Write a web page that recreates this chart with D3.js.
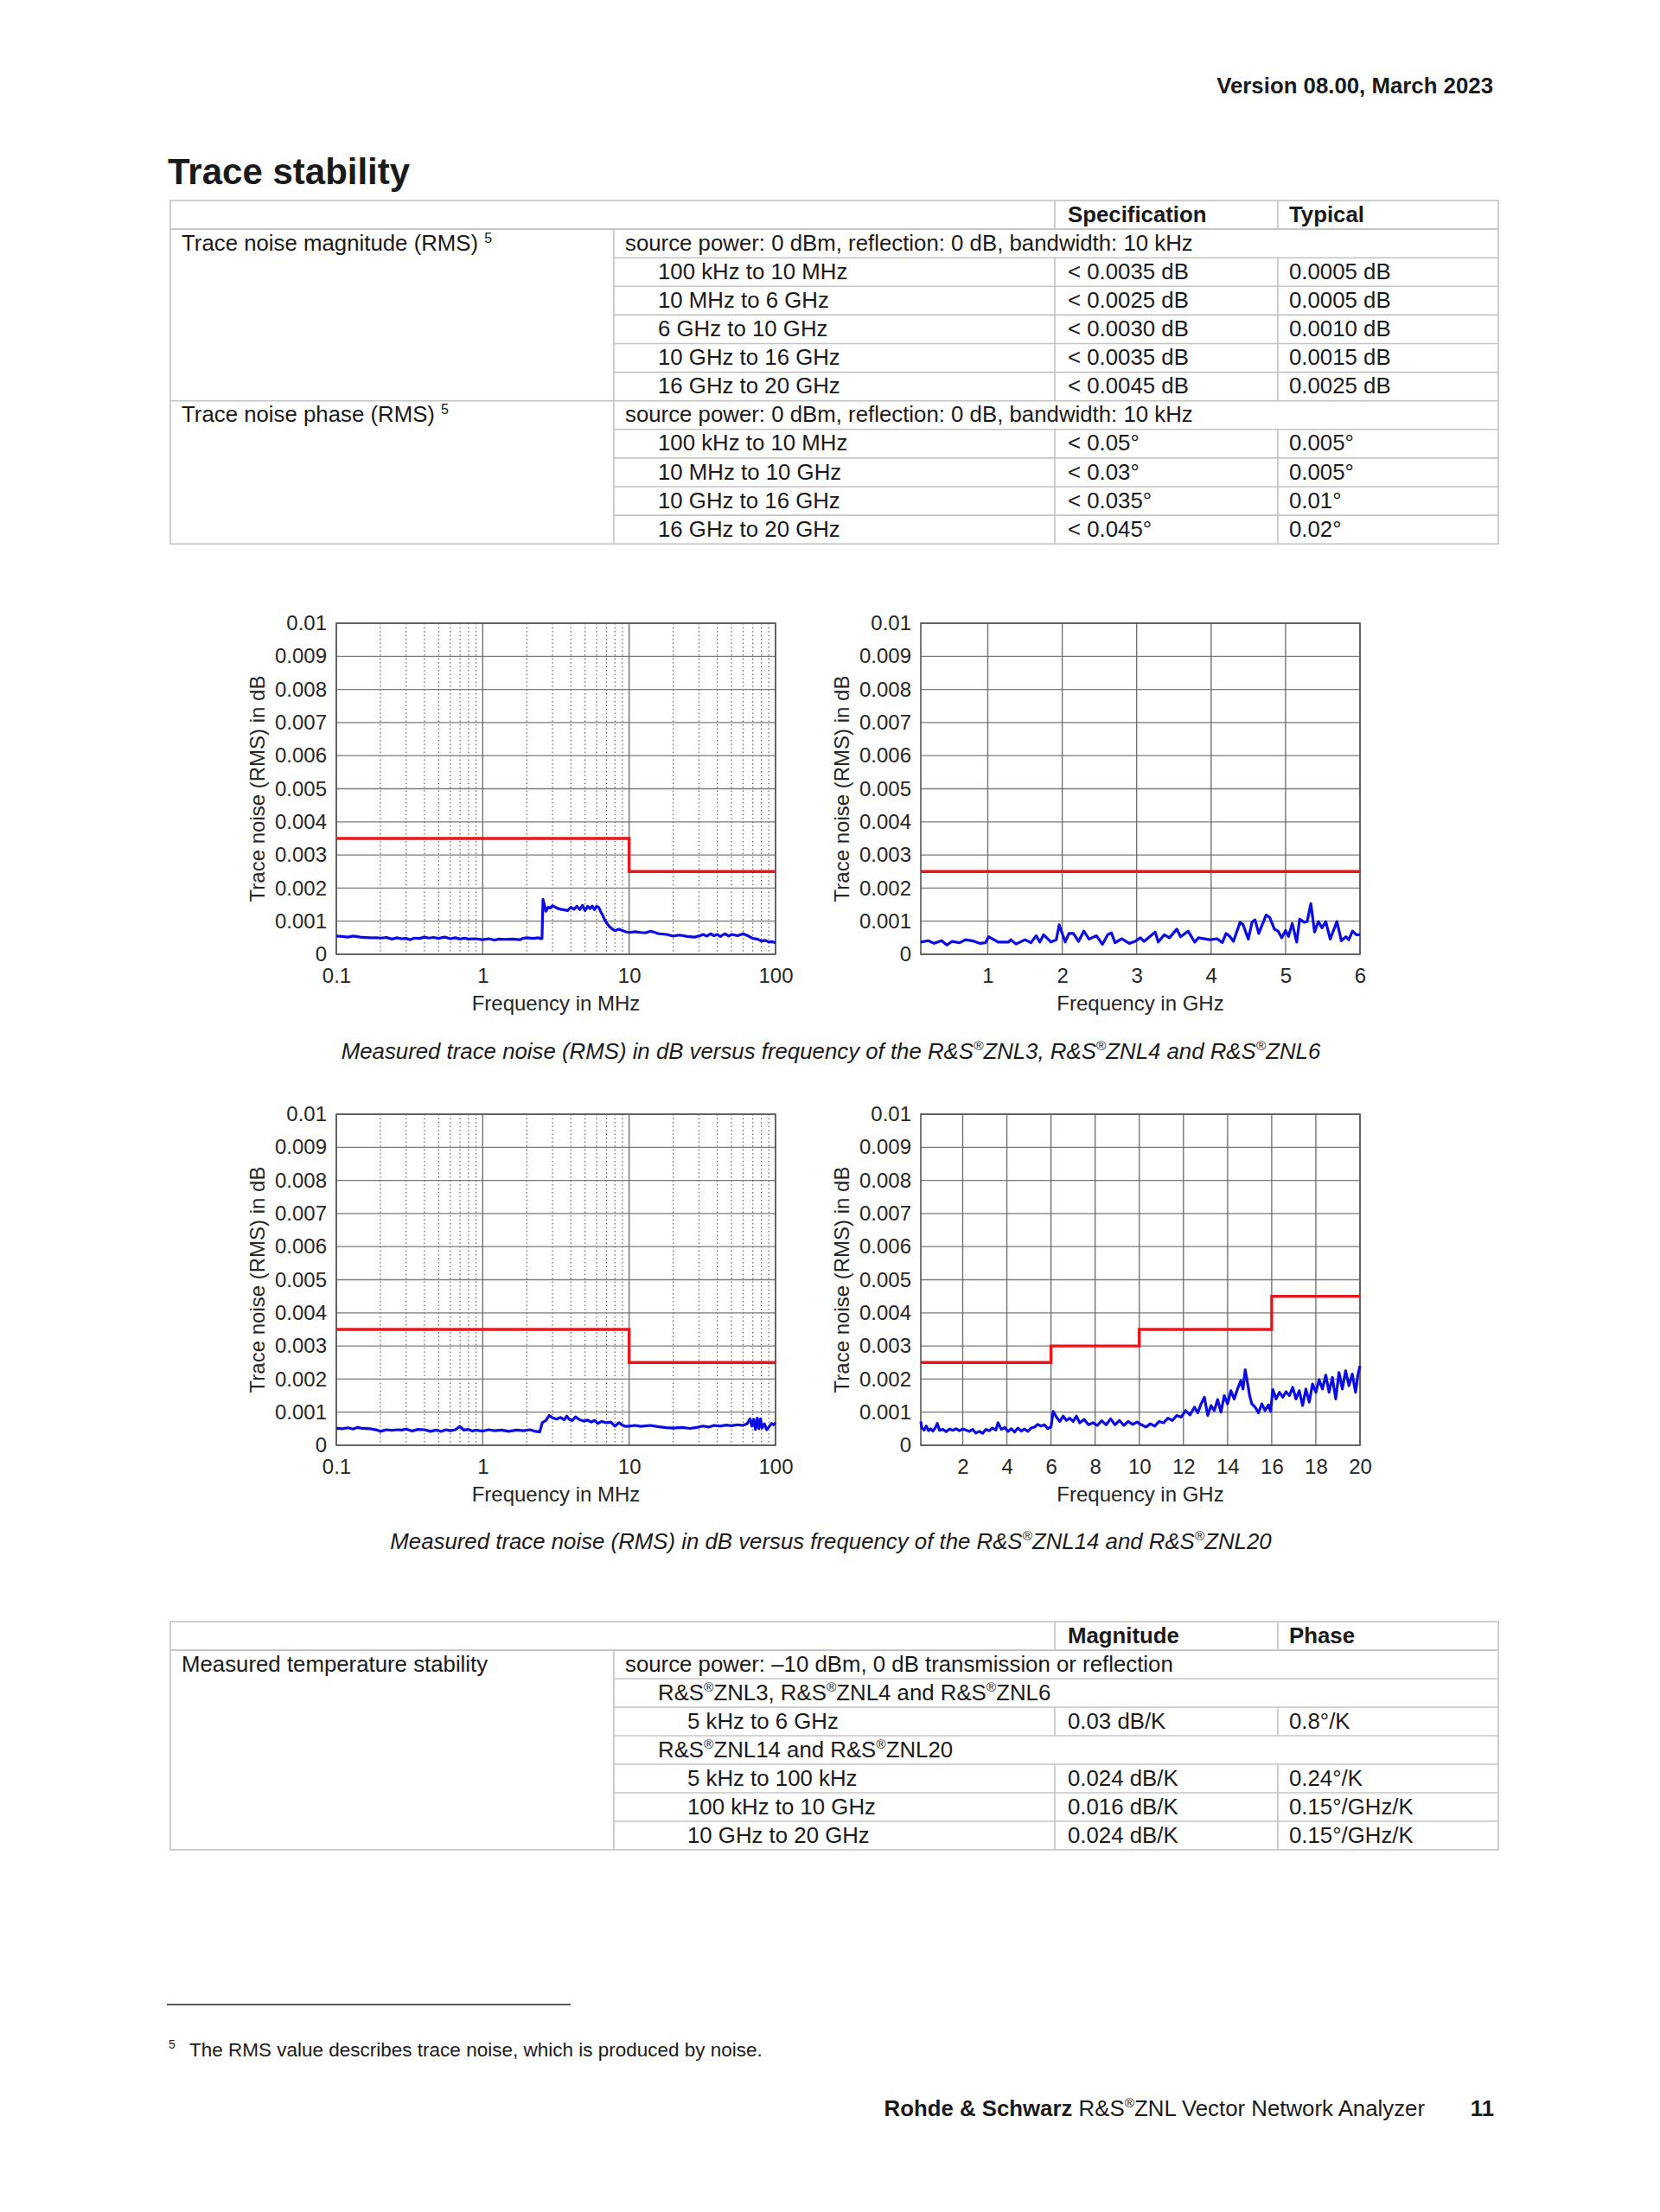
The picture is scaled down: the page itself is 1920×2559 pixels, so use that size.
<!DOCTYPE html>
<meta charset="utf-8">
<script src="https://d3js.org/d3.v7.min.js"></script>
<style>
  body { margin: 0; background: #fff; }
  text { font-family: "Liberation Sans", Arial, sans-serif; fill: #1a1a1a; }
</style>
<div id="page"></div>
<script>
// ---- data ----
var yTicks = [0, 0.001, 0.002, 0.003, 0.004, 0.005, 0.006, 0.007, 0.008, 0.009, 0.01];
var yTickLabels = ["0", "0.001", "0.002", "0.003", "0.004", "0.005", "0.006", "0.007", "0.008", "0.009", "0.01"];
var logTicks = [0.1, 1, 10, 100];
var logTickLabels = ["0.1", "1", "10", "100"];
var ghz6Ticks = [1, 2, 3, 4, 5, 6];
var ghz20Ticks = [2, 4, 6, 8, 10, 12, 14, 16, 18, 20];

// specification limits (step after)
var limitZnl6Mhz = [[0.1, 0.0035], [10, 0.0025], [100, 0.0025]];
var limitZnl6Ghz = [[0.1, 0.0025], [6, 0.0025]];
var limitZnl20Mhz = [[0.1, 0.0035], [10, 0.0025], [100, 0.0025]];
var limitZnl20Ghz = [[0.1, 0.0025], [6, 0.003], [10, 0.0035], [16, 0.0045], [20, 0.0045]];

// measured trace noise, frequency / dB
var traceZnl6Mhz = [
  [0.1,0.00055],[0.11,0.00054],[0.12,0.00052],[0.13,0.00055],[0.14,0.00053],[0.15,0.00051],[0.17,0.0005],
  [0.19,0.0005],[0.2,0.00049],[0.22,0.00051],[0.24,0.00046],[0.26,0.0005],[0.28,0.00047],[0.3,0.00048],
  [0.32,0.00044],[0.34,0.00049],[0.37,0.00048],[0.4,0.00052],[0.43,0.00049],[0.46,0.00051],[0.5,0.00048],
  [0.55,0.00052],[0.6,0.00047],[0.65,0.0005],[0.7,0.00046],[0.75,0.00049],[0.8,0.00046],[0.9,0.00047],
  [1.0,0.00044],[1.1,0.00047],[1.2,0.00043],[1.3,0.00046],[1.4,0.00045],[1.6,0.00046],[1.8,0.00044],
  [1.9,0.00049],[2.0,0.0005],[2.2,0.00048],[2.4,0.0005],[2.5,0.00047],[2.54,0.00048],[2.58,0.00166],
  [2.65,0.00145],[2.7,0.0013],[2.8,0.00142],[2.9,0.0014],[3.0,0.00147],[3.2,0.0014],[3.4,0.00136],
  [3.6,0.00134],[3.8,0.00132],[4.0,0.00142],[4.2,0.00136],[4.4,0.00145],[4.6,0.00135],[4.8,0.00148],
  [5.0,0.00132],[5.2,0.00145],[5.4,0.00138],[5.6,0.00146],[5.8,0.00135],[6.0,0.00145],[6.2,0.00142],
  [6.4,0.00128],[6.6,0.00118],[6.8,0.00105],[7.0,0.00095],[7.3,0.00085],[7.6,0.00078],[8.0,0.00071],
  [8.5,0.00076],[9.0,0.00072],[9.5,0.00068],[10,0.00066],[11,0.00068],[12,0.00066],[13,0.00065],
  [14,0.0007],[15,0.00066],[16,0.00062],[18,0.0006],[20,0.00055],[22,0.00058],[25,0.00054],[28,0.00052],
  [30,0.00055],[32,0.0006],[34,0.00055],[36,0.00062],[38,0.00056],[40,0.0006],[42,0.00054],[45,0.00062],
  [48,0.00055],[50,0.0006],[55,0.00056],[60,0.00062],[63,0.00058],[66,0.00054],[70,0.00048],[75,0.00046],
  [80,0.0004],[85,0.00042],[90,0.00037],[95,0.00038],[100,0.00035]
];
var traceZnl6Ghz = [
  [0.1,0.00037],[0.2,0.00041],[0.28,0.00033],[0.38,0.00041],[0.45,0.00028],[0.52,0.00039],[0.62,0.00035],
  [0.7,0.00044],[0.79,0.00041],[0.89,0.00033],[0.97,0.00035],[1.01,0.00053],[1.14,0.00037],[1.28,0.00037],
  [1.31,0.00044],[1.38,0.00031],[1.5,0.00044],[1.58,0.00035],[1.65,0.00056],[1.7,0.00037],[1.75,0.00059],
  [1.85,0.00037],[1.92,0.00044],[1.96,0.00089],[2.04,0.00037],[2.09,0.00063],[2.15,0.00063],[2.22,0.00039],
  [2.29,0.0007],[2.36,0.00046],[2.46,0.00056],[2.54,0.0003],[2.61,0.00059],[2.66,0.00065],[2.71,0.00035],
  [2.8,0.00047],[2.9,0.00033],[2.98,0.00039],[3.05,0.0005],[3.1,0.00039],[3.25,0.00067],[3.29,0.00037],
  [3.37,0.00059],[3.44,0.0005],[3.54,0.00076],[3.59,0.00053],[3.69,0.0007],[3.78,0.00037],[3.83,0.0005],
  [3.98,0.00044],[4.08,0.00047],[4.15,0.00035],[4.2,0.00063],[4.25,0.00054],[4.3,0.00039],[4.39,0.00097],
  [4.43,0.00089],[4.5,0.00046],[4.55,0.00097],[4.59,0.00104],[4.64,0.00063],[4.74,0.00119],[4.79,0.0011],
  [4.85,0.00076],[4.9,0.0007],[4.95,0.0005],[5.0,0.00072],[5.04,0.00054],[5.09,0.00093],[5.15,0.00037],
  [5.19,0.00106],[5.25,0.00097],[5.29,0.00099],[5.34,0.00153],[5.39,0.00067],[5.44,0.00099],[5.49,0.0008],
  [5.54,0.00099],[5.6,0.00046],[5.69,0.00099],[5.75,0.00041],[5.81,0.00053],[5.85,0.00044],[5.9,0.0007],
  [5.95,0.00059],[6.0,0.00059]
];
var traceZnl20Mhz = [
  [0.1,0.00051],[0.11,0.0005],[0.12,0.00053],[0.13,0.00049],[0.14,0.00054],[0.15,0.00051],[0.17,0.0005],
  [0.19,0.00046],[0.2,0.00042],[0.22,0.00047],[0.24,0.00045],[0.26,0.00047],[0.28,0.00046],[0.3,0.00049],
  [0.33,0.00043],[0.36,0.00048],[0.4,0.00047],[0.44,0.00042],[0.48,0.00046],[0.52,0.00042],[0.56,0.00047],
  [0.6,0.00044],[0.65,0.00047],[0.7,0.00057],[0.74,0.00046],[0.8,0.00048],[0.85,0.00043],[0.9,0.00046],
  [0.95,0.00044],[1.0,0.00043],[1.1,0.00047],[1.2,0.00044],[1.35,0.00046],[1.5,0.00042],[1.7,0.00046],
  [1.9,0.00044],[2.1,0.00047],[2.3,0.00042],[2.45,0.0004],[2.55,0.00068],[2.7,0.00075],[2.85,0.0009],
  [3.0,0.00083],[3.2,0.00079],[3.4,0.00084],[3.6,0.00077],[3.75,0.00088],[3.9,0.00078],[4.1,0.00075],
  [4.3,0.00086],[4.6,0.00077],[4.9,0.00073],[5.2,0.00076],[5.5,0.0007],[5.8,0.00075],[6.1,0.00066],
  [6.5,0.00072],[7.0,0.00068],[7.5,0.0007],[8.0,0.00058],[8.5,0.00068],[9.0,0.00061],[9.5,0.00057],
  [10,0.00058],[11,0.0006],[12,0.00057],[14,0.0006],[16,0.00056],[18,0.00053],[20,0.00052],[23,0.00054],
  [26,0.00051],[29,0.00054],[32,0.00058],[35,0.00055],[38,0.0006],[42,0.00058],[46,0.00061],[50,0.00059],
  [55,0.00062],[60,0.0006],[64,0.00065],[67,0.0008],[69,0.00058],[71,0.00078],[73,0.00048],[75,0.00082],
  [77,0.0005],[79,0.0008],[81,0.00052],[84,0.00065],[87,0.00047],[90,0.00055],[94,0.00066],[97,0.00062],
  [100,0.00068]
];
var traceZnl20Ghz = [
  [0.1,0.00072],[0.15,0.00052],[0.25,0.00046],[0.35,0.00058],[0.45,0.00044],[0.55,0.0005],[0.65,0.00043],
  [0.75,0.00052],[0.85,0.00066],[0.95,0.00045],[1.1,0.00048],[1.25,0.00041],[1.4,0.00049],[1.55,0.00045],
  [1.7,0.0005],[1.85,0.00044],[2.0,0.00049],[2.15,0.00046],[2.3,0.00042],[2.45,0.00048],[2.6,0.00037],
  [2.75,0.00042],[2.9,0.00036],[3.05,0.00048],[3.2,0.00044],[3.35,0.00052],[3.5,0.00046],[3.6,0.00068],
  [3.75,0.00048],[3.9,0.00054],[4.05,0.00042],[4.2,0.0005],[4.35,0.0004],[4.5,0.00052],[4.65,0.00043],
  [4.8,0.00049],[4.95,0.00042],[5.1,0.00052],[5.25,0.00055],[5.4,0.00063],[5.55,0.00058],[5.7,0.00062],
  [5.85,0.0005],[6.0,0.00056],[6.1,0.00102],[6.25,0.00085],[6.4,0.00072],[6.55,0.00088],[6.7,0.00075],
  [6.85,0.00082],[7.0,0.00072],[7.15,0.00088],[7.3,0.00068],[7.5,0.00078],[7.7,0.00062],[7.9,0.00068],
  [8.1,0.0006],[8.3,0.00074],[8.5,0.00062],[8.7,0.0008],[8.9,0.00062],[9.1,0.00075],[9.3,0.0006],
  [9.5,0.00072],[9.7,0.00063],[9.9,0.0007],[10.1,0.00062],[10.3,0.00055],[10.5,0.00065],[10.7,0.00058],
  [10.9,0.00072],[11.1,0.00068],[11.3,0.00082],[11.5,0.00075],[11.7,0.0009],[11.9,0.00085],[12.1,0.00105],
  [12.3,0.00092],[12.5,0.00115],[12.65,0.00098],[12.8,0.00125],[12.95,0.00145],[13.1,0.0009],[13.25,0.0012],
  [13.4,0.00105],[13.55,0.00138],[13.7,0.001],[13.85,0.0015],[14.0,0.00125],[14.15,0.00165],[14.3,0.0014],
  [14.45,0.0017],[14.6,0.00195],[14.7,0.0017],[14.8,0.00228],[14.9,0.0019],[15.0,0.0015],[15.1,0.00125],
  [15.25,0.00115],[15.4,0.00098],[15.55,0.00125],[15.7,0.00105],[15.85,0.00122],[15.95,0.00102],
  [16.05,0.00168],[16.2,0.0014],[16.35,0.0016],[16.5,0.00145],[16.65,0.00162],[16.8,0.0015],[16.95,0.00175],
  [17.1,0.0014],[17.25,0.00165],[17.4,0.0012],[17.55,0.0017],[17.7,0.0013],[17.85,0.00185],[18.0,0.0016],
  [18.15,0.00198],[18.3,0.0017],[18.45,0.00212],[18.6,0.0016],[18.75,0.00205],[18.9,0.0014],[19.05,0.0022],
  [19.2,0.0017],[19.35,0.00225],[19.5,0.0018],[19.65,0.00215],[19.8,0.0016],[19.9,0.0021],[20.0,0.0024]
];

// table text
var stabHeader = ["Specification", "Typical"];
var magCondition = "source power: 0 dBm, reflection: 0 dB, bandwidth: 10 kHz";
var magRows = [
  ["100 kHz to 10 MHz", "< 0.0035 dB", "0.0005 dB"],
  ["10 MHz to 6 GHz", "< 0.0025 dB", "0.0005 dB"],
  ["6 GHz to 10 GHz", "< 0.0030 dB", "0.0010 dB"],
  ["10 GHz to 16 GHz", "< 0.0035 dB", "0.0015 dB"],
  ["16 GHz to 20 GHz", "< 0.0045 dB", "0.0025 dB"]
];
var phaseRows = [
  ["100 kHz to 10 MHz", "< 0.05°", "0.005°"],
  ["10 MHz to 10 GHz", "< 0.03°", "0.005°"],
  ["10 GHz to 16 GHz", "< 0.035°", "0.01°"],
  ["16 GHz to 20 GHz", "< 0.045°", "0.02°"]
];
var tempHeader = ["Magnitude", "Phase"];
var tempCondition = "source power: \u201310 dBm, 0 dB transmission or reflection";
var tempSmallModels = "R&S®ZNL3, R&S®ZNL4 and R&S®ZNL6";
var tempSmallRows = [["5 kHz to 6 GHz", "0.03 dB/K", "0.8°/K"]];
var tempLargeModels = "R&S®ZNL14 and R&S®ZNL20";
var tempLargeRows = [
  ["5 kHz to 100 kHz", "0.024 dB/K", "0.24°/K"],
  ["100 kHz to 10 GHz", "0.016 dB/K", "0.15°/GHz/K"],
  ["10 GHz to 20 GHz", "0.024 dB/K", "0.15°/GHz/K"]
];

// ---- drawing ----
var svg = d3.select("#page").append("svg")
  .attr("width", 1920).attr("height", 2559);
svg.append("rect").attr("width", 1920).attr("height", 2559).attr("fill", "#fff");

var FS = 25.8;

// text with raised ® marks
function rich(t, str, fs) {
  var parts = str.split("®");
  parts.forEach(function(p, i) {
    if (i > 0) {
      t.append("tspan").attr("font-size", fs * 0.6).attr("dy", -fs * 0.38).text("®");
      t.append("tspan").attr("font-size", fs).attr("dy", fs * 0.38).text(p);
    } else {
      t.append("tspan").text(p);
    }
  });
  return t;
}

function label(x, y, str, opts) {
  opts = opts || {};
  var t = svg.append("text").attr("x", x).attr("y", y)
    .attr("font-size", opts.size || FS)
    .attr("font-weight", opts.bold ? "bold" : null)
    .attr("font-style", opts.italic ? "italic" : null)
    .attr("text-anchor", opts.anchor || "start");
  return rich(t, str, opts.size || FS);
}

// header lines
label(1727, 108, "Version 08.00, March 2023", {bold: true, anchor: "end"});
label(194, 213, "Trace stability", {bold: true, size: 42});

// ---- tables ----
var colX = [197, 710, 1220, 1478, 1733];
var lineCol = "#c4c4c4";

function hline(y, xa, xb) {
  svg.append("line").attr("x1", xa).attr("x2", xb).attr("y1", y).attr("y2", y)
    .attr("stroke", lineCol).attr("stroke-width", 1.6);
}
function vline(x, ya, yb) {
  svg.append("line").attr("x1", x).attr("x2", x).attr("y1", ya).attr("y2", yb)
    .attr("stroke", lineCol).attr("stroke-width", 1.6);
}

// groups: [{title, note, rows:[{span:true,text,indent} | {cells:[a,b,c],indent}]}]
function drawTable(top, rowH, header, groups) {
  var indentX = [colX[1] + 13, colX[1] + 51, colX[1] + 85];
  var nRows = 1 + d3.sum(groups, function(g) { return g.rows.length; });
  var bottom = top + nRows * rowH;
  // header
  header.forEach(function(h, i) {
    label(colX[2 + i] + 15 - i * 2, top + rowH - 8.5, h, {bold: true});
  });
  vline(colX[2], top, top + rowH);
  vline(colX[3], top, top + rowH);
  hline(top + rowH, colX[0], colX[4]);
  var r = 1;
  groups.forEach(function(g) {
    var gTop = top + r * rowH;
    hline(gTop, colX[0], colX[4]);
    var t = label(colX[0] + 13, gTop + rowH - 8.5, g.title);
    if (g.note) {
      t.append("tspan").attr("font-size", 16).attr("dx", 7).attr("dy", -9).text(g.note);
    }
    g.rows.forEach(function(row, k) {
      var yTop = top + r * rowH;
      if (k > 0) hline(yTop, colX[1], colX[4]);
      var base = yTop + rowH - 8.5;
      if (row.span) {
        label(indentX[row.indent], base, row.text);
      } else {
        label(indentX[row.indent], base, row.cells[0]);
        label(colX[2] + 15, base, row.cells[1]);
        label(colX[3] + 13, base, row.cells[2]);
        vline(colX[2], yTop, yTop + rowH);
        vline(colX[3], yTop, yTop + rowH);
      }
      r++;
    });
  });
  vline(colX[1], top + rowH, bottom);
  svg.append("rect").attr("x", colX[0]).attr("y", top)
    .attr("width", colX[4] - colX[0]).attr("height", bottom - top)
    .attr("fill", "none").attr("stroke", lineCol).attr("stroke-width", 1.6);
}

function dataRows(rows, indent) {
  return rows.map(function(c) { return {cells: c, indent: indent}; });
}

drawTable(232, 33.1, stabHeader, [
  {title: "Trace noise magnitude (RMS)", note: "5",
   rows: [{span: true, text: magCondition, indent: 0}].concat(dataRows(magRows, 1))},
  {title: "Trace noise phase (RMS)", note: "5",
   rows: [{span: true, text: magCondition, indent: 0}].concat(dataRows(phaseRows, 1))}
]);

drawTable(1876, 33, tempHeader, [
  {title: "Measured temperature stability",
   rows: [{span: true, text: tempCondition, indent: 0},
          {span: true, text: tempSmallModels, indent: 1}]
     .concat(dataRows(tempSmallRows, 2))
     .concat([{span: true, text: tempLargeModels, indent: 1}])
     .concat(dataRows(tempLargeRows, 2))}
]);

// ---- charts ----
var PW = 508, PH = 383;

function panel(cfg) {
  var g = svg.append("g").attr("transform", "translate(" + cfg.left + "," + cfg.top + ")");
  var x = (cfg.log ? d3.scaleLog() : d3.scaleLinear()).domain(cfg.domain).range([0, PW]);
  var y = d3.scaleLinear().domain([0, 0.01]).range([PH, 0]);

  if (cfg.log) {
    var minor = x.ticks().filter(function(d) {
      var e = Math.log10(d);
      return Math.abs(e - Math.round(e)) > 1e-6;
    });
    g.selectAll(".minor").data(minor).join("line")
      .attr("x1", function(d) { return x(d); }).attr("x2", function(d) { return x(d); })
      .attr("y1", 0).attr("y2", PH)
      .attr("stroke", "#555").attr("stroke-width", 1.1).attr("stroke-dasharray", "1.5,3");
  }
  g.selectAll(".hg").data(yTicks).join("line")
    .attr("x1", 0).attr("x2", PW)
    .attr("y1", function(d) { return y(d); }).attr("y2", function(d) { return y(d); })
    .attr("stroke", "#7a7a7a").attr("stroke-width", 1.3);
  g.selectAll(".vg").data(cfg.ticks).join("line")
    .attr("x1", function(d) { return x(d); }).attr("x2", function(d) { return x(d); })
    .attr("y1", 0).attr("y2", PH)
    .attr("stroke", "#6a6a6a").attr("stroke-width", 1.3);
  g.append("rect").attr("width", PW).attr("height", PH)
    .attr("fill", "none").attr("stroke", "#555").attr("stroke-width", 1.6);

  var yAxis = g.append("g")
    .call(d3.axisLeft(y).tickValues(yTicks).tickSize(0).tickPadding(11)
      .tickFormat(function(d, i) { return yTickLabels[i]; }));
  var xAxis = g.append("g").attr("transform", "translate(0," + PH + ")")
    .call(d3.axisBottom(x).tickValues(cfg.ticks).tickSize(0).tickPadding(16)
      .tickFormat(function(d, i) { return cfg.tickLabels[i]; }));
  [yAxis, xAxis].forEach(function(a) {
    a.select(".domain").remove();
    a.attr("font-family", null).attr("font-size", null);
    a.selectAll("text").attr("font-size", 24).style("fill", "#262626");
  });

  g.append("text").attr("x", PW / 2).attr("y", PH + 65)
    .attr("text-anchor", "middle").attr("font-size", 24).style("fill", "#262626")
    .text(cfg.xLabel);
  g.append("text").attr("transform", "translate(-91," + (PH / 2) + ") rotate(-90)")
    .attr("dy", "0.35em").attr("text-anchor", "middle").attr("font-size", 24)
    .style("fill", "#262626")
    .text("Trace noise (RMS) in dB");

  var line = d3.line()
    .x(function(d) { return x(d[0]); })
    .y(function(d) { return y(d[1]); });
  g.append("path").datum(cfg.limit)
    .attr("d", line.curve(d3.curveStepAfter))
    .attr("fill", "none").attr("stroke", "#e8161b").attr("stroke-width", 3.4);
  g.append("path").datum(cfg.trace)
    .attr("d", line.curve(d3.curveLinear))
    .attr("fill", "none").attr("stroke", "#0b0be4").attr("stroke-width", 3.2)
    .attr("stroke-linejoin", "round");
}

panel({left: 389, top: 721, log: true, domain: [0.1, 100], ticks: logTicks, tickLabels: logTickLabels,
  xLabel: "Frequency in MHz", limit: limitZnl6Mhz, trace: traceZnl6Mhz});
panel({left: 1065, top: 721, log: false, domain: [0.1, 6], ticks: ghz6Ticks, tickLabels: ghz6Ticks.map(String),
  xLabel: "Frequency in GHz", limit: limitZnl6Ghz, trace: traceZnl6Ghz});
panel({left: 389, top: 1289, log: true, domain: [0.1, 100], ticks: logTicks, tickLabels: logTickLabels,
  xLabel: "Frequency in MHz", limit: limitZnl20Mhz, trace: traceZnl20Mhz});
panel({left: 1065, top: 1289, log: false, domain: [0.1, 20], ticks: ghz20Ticks, tickLabels: ghz20Ticks.map(String),
  xLabel: "Frequency in GHz", limit: limitZnl20Ghz, trace: traceZnl20Ghz});

label(961, 1225, "Measured trace noise (RMS) in dB versus frequency of the R&S®ZNL3, R&S®ZNL4 and R&S®ZNL6",
  {italic: true, anchor: "middle"});
label(961, 1792, "Measured trace noise (RMS) in dB versus frequency of the R&S®ZNL14 and R&S®ZNL20",
  {italic: true, anchor: "middle"});

// ---- footnote and footer ----
svg.append("line").attr("x1", 193).attr("x2", 660).attr("y1", 2319).attr("y2", 2319)
  .attr("stroke", "#222").attr("stroke-width", 1.5);
label(195, 2370, "5", {size: 14});
label(219, 2379, "The RMS value describes trace noise, which is produced by noise.", {size: 22.5});

var foot = svg.append("text").attr("x", 1648).attr("y", 2448).attr("font-size", FS)
  .attr("text-anchor", "end");
foot.append("tspan").attr("font-weight", "bold").text("Rohde & Schwarz ");
rich(foot, "R&S®ZNL Vector Network Analyzer", FS);
label(1728, 2448, "11", {bold: true, anchor: "end"});
</script>
